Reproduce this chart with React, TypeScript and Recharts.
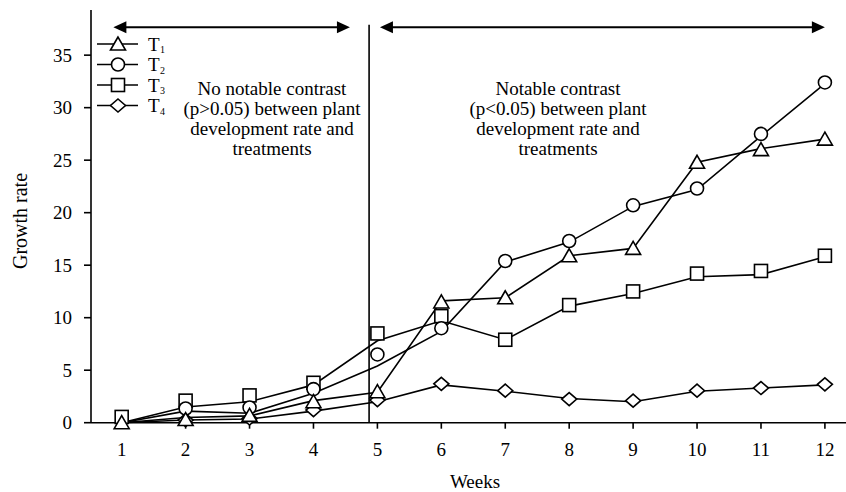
import { LineChart, Line, XAxis, YAxis, ReferenceLine, ReferenceDot, Customized } from 'recharts'

// weeks on the x axis
const WEEKS = [1, 2, 3, 4, 5, 6, 7, 8, 9, 10, 11, 12]

// marker values (null where no marker shows)
const T1_MARKS = [0, 0.3, 0.7, 2.0, 2.95, 11.5, 11.9, 15.9, 16.6, 24.8, 26.0, 27.0]
const T2_MARKS = [null, 1.35, 1.45, 3.2, 6.5, 9.0, 15.4, 17.3, 20.7, 22.3, 27.5, 32.4]
const T3_MARKS = [0.55, 2.1, 2.6, 3.8, 8.5, 10.15, 7.9, 11.2, 12.5, 14.2, 14.45, 15.9]
const T4_MARKS = [null, 0.25, 0.4, 1.2, 2.15, 3.7, 3.05, 2.25, 2.1, 3.05, 3.3, 3.65]

// the connecting lines in the figure do not always go through the markers
const T1_LINE = [0, 0.5, 0.65, 2.1, 2.9, 11.6, 11.9, 15.9, 16.6, 24.8, 26.1, 27.0]
const T2_LINE = [0, 1.1, 0.9, 2.8, 5.4, 8.7, 15.3, 17.2, 20.6, 22.2, 27.3, 32.3]
const T3_LINE = [0, 1.5, 2.0, 3.6, 7.8, 9.7, 7.9, 11.1, 12.3, 13.9, 14.1, 15.8]
const T4_LINE = [0, 0.25, 0.35, 1.1, 2.0, 3.6, 3.0, 2.3, 2.0, 3.0, 3.3, 3.6]

const Y_TICKS = [0, 5, 10, 15, 20, 25, 30, 35]

const SERIES = [
  { key: 't1', name: 'T', sub: '1', shape: 'triangle' },
  { key: 't2', name: 'T', sub: '2', shape: 'circle' },
  { key: 't3', name: 'T', sub: '3', shape: 'square' },
  { key: 't4', name: 'T', sub: '4', shape: 'diamond' },
]

// annotation positions in data units
const ARROW_Y = 37.65
const LEFT_ARROW = [0.87, 4.57]
const RIGHT_ARROW = [5.04, 12.0]
const DIVIDER_X = 4.87
const DIVIDER_TOP = 37.9

const LEFT_NOTE = ['No notable contrast', '(p>0.05) between plant', 'development rate and', 'treatments']
const RIGHT_NOTE = ['Notable contrast', '(p<0.05) between plant', 'development rate and', 'treatments']

const data = WEEKS.map((week, i) => ({
  week,
  t1: T1_MARKS[i],
  t2: T2_MARKS[i],
  t3: T3_MARKS[i],
  t4: T4_MARKS[i],
  t1Line: T1_LINE[i],
  t2Line: T2_LINE[i],
  t3Line: T3_LINE[i],
  t4Line: T4_LINE[i],
}))

const FONT = '"Liberation Serif", "Times New Roman", serif'
const SW = 1.6

function Marker({ shape, cx, cy }: { shape: string; cx: number; cy: number }) {
  const common = { fill: '#fff', stroke: '#000', strokeWidth: SW }
  if (shape === 'triangle')
    return <polygon points={`${cx},${cy - 7} ${cx - 7.5},${cy + 6} ${cx + 7.5},${cy + 6}`} {...common} />
  if (shape === 'circle') return <circle cx={cx} cy={cy} r={6.5} {...common} />
  if (shape === 'square') return <rect x={cx - 6.5} y={cy - 6.5} width={13} height={13} {...common} />
  return <polygon points={`${cx},${cy - 6.5} ${cx + 7.5},${cy} ${cx},${cy + 6.5} ${cx - 7.5},${cy}`} {...common} />
}

const makeDot = (shape: string) => (props: any) => {
  const { cx, cy, index, value } = props
  if (cx == null || cy == null || value == null) return <g key={`d-${shape}-${index}`} />
  return (
    <g key={`d-${shape}-${index}`}>
      <Marker shape={shape} cx={cx} cy={cy} />
    </g>
  )
}

const arrowHead = (dir: 'left' | 'right') => (props: any) => {
  const { cx, cy } = props
  const d = dir === 'left' ? 1 : -1
  return <polygon points={`${cx},${cy} ${cx + d * 13},${cy - 6} ${cx + d * 13},${cy + 6}`} fill="#000" />
}

function Overlay() {
  const rows = [44, 64.5, 85, 105.5]
  return (
    <g fontFamily={FONT} fill="#000">
      {SERIES.map((s, i) => (
        <g key={s.key}>
          <line x1={97} x2={138} y1={rows[i]} y2={rows[i]} stroke="#000" strokeWidth={SW} />
          <Marker shape={s.shape} cx={118} cy={rows[i]} />
          <text x={148} y={rows[i] + 6.5} fontSize={19}>
            {s.name}
          </text>
          <text x={160} y={rows[i] + 9} fontSize={10}>
            {s.sub}
          </text>
        </g>
      ))}
      {LEFT_NOTE.map((t, i) => (
        <text key={`l${i}`} x={272} y={95 + i * 20} fontSize={19} textAnchor="middle">
          {t}
        </text>
      ))}
      {RIGHT_NOTE.map((t, i) => (
        <text key={`r${i}`} x={558} y={95 + i * 20} fontSize={19} textAnchor="middle">
          {t}
        </text>
      ))}
      <text x={27} y={221} fontSize={20} textAnchor="middle" transform="rotate(-90, 27, 221)">
        Growth rate
      </text>
      <text x={475} y={488} fontSize={19} textAnchor="middle">
        Weeks
      </text>
    </g>
  )
}

export default function App() {
  const tickStyle = { fontSize: 19, fill: '#000', fontFamily: FONT }
  return (
    <div style={{ position: 'absolute', left: 0, top: 0, background: '#fff' }}>
      <LineChart width={846} height={492} data={data} margin={{ top: 10, right: 0, bottom: 39.3, left: 0 }}>
        <XAxis
          dataKey="week"
          type="number"
          domain={[0.52, 12.33]}
          ticks={WEEKS}
          interval={0}
          height={30}
          tick={tickStyle}
          tickSize={6}
          tickMargin={14}
          stroke="#000"
          strokeWidth={SW}
          tickLine={{ stroke: '#000', strokeWidth: SW }}
        />
        <YAxis
          type="number"
          domain={[0, 39.3]}
          ticks={Y_TICKS}
          interval={0}
          width={91}
          tick={tickStyle}
          tickSize={7}
          tickMargin={12}
          stroke="#000"
          strokeWidth={SW}
          tickLine={{ stroke: '#000', strokeWidth: SW }}
        />
        <ReferenceLine
          segment={[
            { x: DIVIDER_X, y: 0 },
            { x: DIVIDER_X, y: DIVIDER_TOP },
          ]}
          stroke="#000"
          strokeWidth={SW}
        />
        <ReferenceLine
          segment={[
            { x: LEFT_ARROW[0] + 0.1, y: ARROW_Y },
            { x: LEFT_ARROW[1] - 0.1, y: ARROW_Y },
          ]}
          stroke="#000"
          strokeWidth={2}
        />
        <ReferenceLine
          segment={[
            { x: RIGHT_ARROW[0] + 0.1, y: ARROW_Y },
            { x: RIGHT_ARROW[1] - 0.1, y: ARROW_Y },
          ]}
          stroke="#000"
          strokeWidth={2}
        />
        <ReferenceDot x={LEFT_ARROW[0]} y={ARROW_Y} shape={arrowHead('left')} />
        <ReferenceDot x={LEFT_ARROW[1]} y={ARROW_Y} shape={arrowHead('right')} />
        <ReferenceDot x={RIGHT_ARROW[0]} y={ARROW_Y} shape={arrowHead('left')} />
        <ReferenceDot x={RIGHT_ARROW[1]} y={ARROW_Y} shape={arrowHead('right')} />

        {SERIES.map((s) => (
          <Line
            key={`${s.key}Line`}
            dataKey={`${s.key}Line`}
            type="linear"
            stroke="#000"
            strokeWidth={SW}
            dot={false}
            activeDot={false}
            isAnimationActive={false}
          />
        ))}
        {['t3', 't2', 't4', 't1'].map((k) => {
          const s = SERIES.find((x) => x.key === k)!
          return (
            <Line
              key={k}
              dataKey={k}
              name={`${s.name}${s.sub}`}
              stroke="none"
              dot={makeDot(s.shape)}
              activeDot={false}
              isAnimationActive={false}
            />
          )
        })}
        <Customized component={Overlay} />
      </LineChart>
    </div>
  )
}
